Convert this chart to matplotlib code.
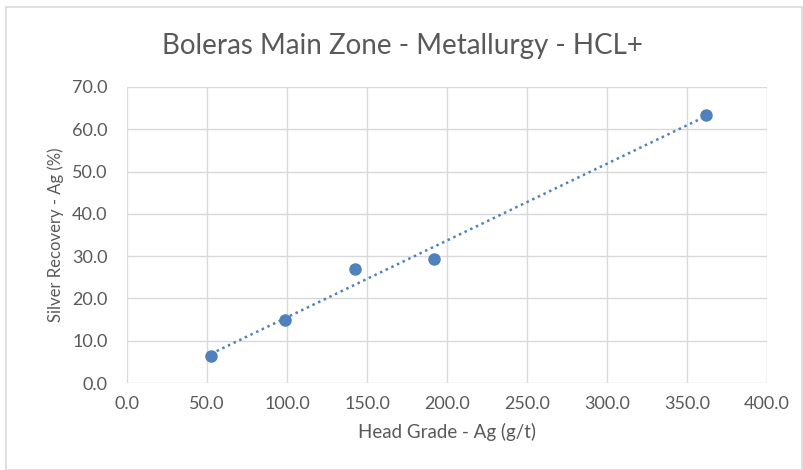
import numpy as np
import matplotlib
matplotlib.use("Agg")
import matplotlib.pyplot as plt
from matplotlib.patches import Rectangle

plt.rcParams['font.family'] = ['Lato', 'DejaVu Sans']

# data
head_grade = [52.5, 99.0, 142.5, 192.0, 362.0]
recovery = [6.3, 14.8, 27.0, 29.4, 63.4]

x_ticks = np.arange(0, 401, 50)
y_ticks = np.arange(0, 71, 10)

grey = "#595959"
blue = "#4F81BD"

fig = plt.figure(figsize=(8.04, 4.70), dpi=100)
ax = fig.add_axes([0.158, 0.185, 0.796, 0.630])

# linear trendline
coef = np.polyfit(head_grade, recovery, 1)
xs = np.array([min(head_grade), max(head_grade)])
ax.plot(xs, np.polyval(coef, xs), linestyle=(0, (1, 1.5)), color=blue, lw=1.8, zorder=2)

ax.plot(head_grade, recovery, "o", color=blue, ms=8, zorder=3)

ax.set_xlim(0, 400)
ax.set_ylim(0, 70)
ax.set_xticks(x_ticks)
ax.set_yticks(y_ticks)
ax.set_xticklabels([f"{v:.1f}" for v in x_ticks])
ax.set_yticklabels([f"{v:.1f}" for v in y_ticks])
ax.grid(True, color="#d9d9d9", lw=1)
ax.set_axisbelow(True)
for s in ax.spines.values():
    s.set_visible(False)
ax.tick_params(length=0, colors=grey, labelsize=13)
ax.tick_params(axis="x", pad=9)
ax.tick_params(axis="y", pad=14)

ax.set_xlabel("Head Grade - Ag (g/t)", color=grey, fontsize=13.5, labelpad=8)
ax.set_ylabel("Silver Recovery - Ag (%)", color=grey, fontsize=12, labelpad=6)
fig.text(0.5, 0.902, "Boleras Main Zone - Metallurgy - HCL+", ha="center", va="center",
         color=grey, fontsize=20)

# chart border
fig.patches.append(Rectangle((0.007, 0.0), 0.99, 0.985, transform=fig.transFigure,
                             fill=False, edgecolor="#d9d9d9", lw=1.2))

fig.savefig("out.png", dpi=100)
